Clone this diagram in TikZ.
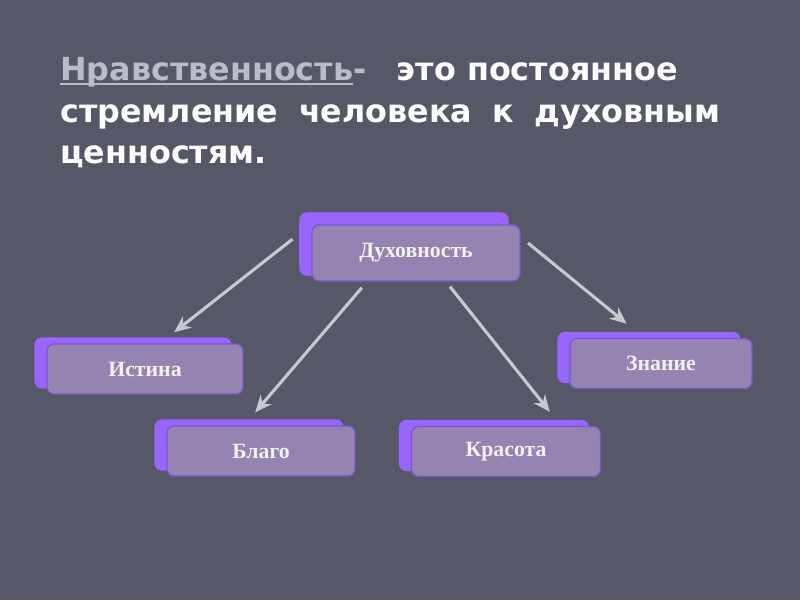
\documentclass[tikz,border=0pt]{standalone}
\usepackage{fontspec}
\setmainfont{Liberation Serif}
\newfontfamily\hdfont{DejaVu Sans}
\usetikzlibrary{arrows.meta,shadows}
\definecolor{bgc}{RGB}{86,88,104}
\definecolor{frontc}{RGB}{149,132,178}
\definecolor{backc}{RGB}{152,102,255}
\definecolor{edgec}{RGB}{125,85,205}
\definecolor{arc}{RGB}{200,200,206}
\definecolor{hlc}{RGB}{188,188,198}
\tikzset{
  >={Stealth[length=4.2mm,width=3.6mm,inset=1.4mm]},
  bx/.style={rectangle,rounded corners=5pt,draw=edgec,line width=0.9pt,fill=frontc,
    minimum height=1.25cm,inner sep=0pt,text=white!95!black,font=\bfseries\fontsize{15.5}{18}\selectfont,
    copy shadow={shadow xshift=-0.3cm,shadow yshift=0.15cm,fill=backc,draw=backc}},
  bxtop/.style={bx,copy shadow={shadow xshift=-0.3cm,shadow yshift=0.3cm,fill=backc,draw=backc}},
  ar/.style={->,draw=arc,line width=2.2pt},
  hd/.style={anchor=base west,inner sep=0pt,text=white,font=\hdfont\bfseries\fontsize{22.6}{26}\selectfont},
}
\begin{document}
\begin{tikzpicture}[x=0.025cm,y=-0.025cm]
\fill[bgc] (0,0) rectangle (800,600);
\useasboundingbox (0,0) rectangle (800,600);
% title
\node[hd,text=hlc] (t1a) at (60,80) {Нравственность};
\node[hd] (t1b) at (t1a.base east) {\textcolor{hlc}{-}\hspace{0.75cm}это постоянное};
\draw[hlc,line width=1.9pt] ([shift={(0,4)}]t1a.base west) -- ([shift={(0,4)}]t1a.base east);
\node[hd] (t2) at (60,122) {\makebox[16.5cm][s]{стремление человека к духовным}};
\node[hd] (t3) at (60,163) {ценностям.};
% boxes
\node[bxtop,minimum width=5.2cm,minimum height=1.4cm] (dux) at (416,253) {Духовность};
\node[bx,minimum width=4.9cm] (ist) at (145,369) {Истина};
\node[bx,minimum width=4.7cm] (bla) at (261,451) {Благо};
\node[bx,minimum width=4.72cm] (kra) at (506,451.5) {Красота};
\node[bx,minimum width=4.55cm] (zna) at (661,363.5) {Знание};
% arrows
\draw[ar,shorten <=0.6cm,shorten >=0.45cm] (dux.north west) -- ([shift={(15,0)}]ist.north);
\draw[ar,shorten <=0.2cm,shorten >=0.43cm] ([shift={(-49,0)}]dux.south) -- ([shift={(-17,0)}]bla.north);
\draw[ar,shorten <=0.16cm,shorten >=0.45cm] ([shift={(30,0)}]dux.south) -- ([shift={(55,0)}]kra.north);
\draw[ar,shorten <=0.24cm,shorten >=0.56cm] ([shift={(0,-16)}]dux.east) -- ([shift={(-17,0)}]zna.north);
\end{tikzpicture}
\end{document}
